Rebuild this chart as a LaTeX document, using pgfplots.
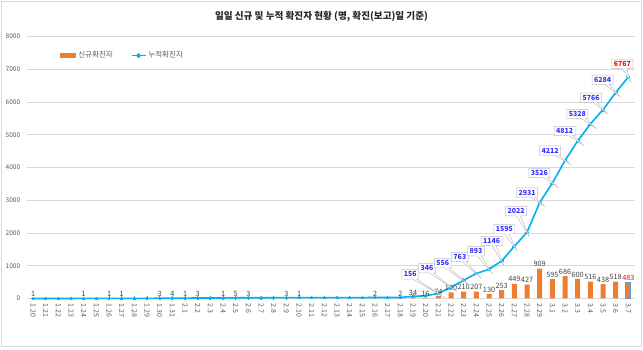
\documentclass[border=0pt]{standalone}
\usepackage{pgfplots}
\pgfplotsset{compat=1.18}
\usepackage{pgfplotstable}
\usepackage{fontspec}
\setmainfont{Noto Sans CJK KR}
\usetikzlibrary{shapes.callouts}
\definecolor{barC}{HTML}{ED7D31}
\definecolor{lineC}{HTML}{00B0F0}
\definecolor{cumC}{HTML}{3333FF}
\definecolor{gridC}{HTML}{D9D9D9}
\definecolor{txtC}{HTML}{595959}
\definecolor{lblC}{HTML}{404040}
\definecolor{edgeC}{HTML}{5B9BD5}

\pgfplotstableread{
x new cum
0 1 1
1 0 1
2 0 1
3 0 1
4 1 2
5 0 2
6 1 3
7 1 4
8 0 4
9 0 4
10 3 7
11 4 11
12 1 12
13 3 15
14 0 15
15 1 16
16 5 21
17 3 24
18 0 24
19 0 24
20 3 27
21 1 28
22 0 28
23 0 28
24 0 28
25 0 28
26 0 28
27 2 30
28 0 30
29 2 32
30 34 66
31 16 82
32 74 156
33 190 346
34 210 556
35 207 763
36 130 893
37 253 1146
38 449 1595
39 427 2022
40 909 2931
41 595 3526
42 686 4212
43 600 4812
44 516 5328
45 438 5766
46 518 6284
47 483 6767
}\daily

\pgfplotstableread{
x cum dx dy px py
32 156 -28 19 28 -19
33 346 -24 19 24 -19
34 556 -21 17 21 -17
35 763 -16.5 16.5 16.5 -16.5
36 893 -13 18 13 -18
37 1146 -10 20 10 -20
38 1595 -10 17 10 -17
39 2022 -11 21 11 -21
40 2931 -12.6 10 12.6 -10
41 3526 -13 10 13 -10
42 4212 -15 10 15 -10
43 4812 -13 10 13 -10
44 5328 -13 10 13 -10
45 5766 -12 12 12 -12
46 6284 -13 13 13 -13
}\callouts

\begin{document}
\begin{tikzpicture}[x=1pt,y=1pt]
\path[use as bounding box] (0,0) rectangle (643,350);
\draw[gridC, line width=0.8pt] (1,4) rectangle (641,349);
\node[font=\bfseries\fontsize{9.6}{11}\selectfont, text=black!85] at (321.5,333) {일일 신규 및 누적 확진자 현황 (명, 확진(보고)일 기준)};
\begin{axis}[
  at={(26.7pt,51.5pt)}, anchor=south west,
  scale only axis, width=608pt, height=262pt,
  clip=false,
  xmin=-0.5, xmax=47.5, ymin=0, ymax=8000,
  ytick={0,1000,...,8000},
  ymajorgrids, grid style={gridC, line width=0.7pt},
  axis x line*=bottom, axis y line*=left,
  y axis line style={draw=none},
  x axis line style={draw=gridC, line width=0.7pt},
  xtick={0,...,47},
  xticklabels={1.20,1.21,1.22,1.23,1.24,1.25,1.26,1.27,1.28,1.29,1.30,1.31,2.1,2.2,2.3,2.4,2.5,2.6,2.7,2.8,2.9,2.10,2.11,2.12,2.13,2.14,2.15,2.16,2.17,2.18,2.19,2.20,2.21,2.22,2.23,2.24,2.25,2.26,2.27,2.28,2.29,3.1,3.2,3.3,3.4,3.5,3.6,3.7},
  major tick length=0pt, tick align=outside,
  xticklabel shift=4pt,
  xticklabel style={rotate=-90, anchor=west, font=\fontsize{7}{8}\selectfont, text=txtC, inner sep=1pt},
  yticklabel style={font=\fontsize{6.5}{7}\selectfont, text=txtC, xshift=-3pt},
  /pgf/number format/assume math mode=true,
  /pgf/number format/1000 sep={},
  legend columns=2,
  legend style={draw=none, fill=none, at={(0.05,0.927)}, anchor=west,
    font=\fontsize{7.5}{9}\selectfont, text=txtC,
    /tikz/every even column/.append style={column sep=16pt}},
]
\addplot[ybar, bar width=5pt, bar shift=0pt, fill=barC, draw=none,
  skip coords between index={47}{48},
  nodes near coords={\pgfmathfloatifflags{\pgfplotspointmeta}{0}{}{\pgfmathprintnumber{\pgfplotspointmeta}}},
  nodes near coords style={font=\fontsize{7.3}{8}\selectfont, text=lblC, inner sep=1.5pt},
  legend image code/.code={\fill[barC] (0pt,-2.5pt) rectangle (16pt,2.5pt);}
] table[x=x, y=new]{\daily};
\addlegendentry{신규확진자}
\addplot[lineC, line width=1.6pt, mark=*, mark size=1.4pt, mark options={fill=lineC, draw=lineC, line width=0pt},
  legend image code/.code={\draw[lineC, line width=1.6pt] (0pt,0pt) -- (14pt,0pt); \fill[lineC] (7pt,0pt) circle (1.5pt);}
] table[x=x, y=cum]{\daily};
\addlegendentry{누적확진자}
\addplot[ybar, bar width=5pt, bar shift=0pt, fill=barC, draw=edgeC, line width=1pt, forget plot,
  nodes near coords,
  nodes near coords style={font=\fontsize{7.3}{8}\selectfont, text=red, inner sep=2pt}
] coordinates {(47,483)};
\addplot[draw=none, mark=none, forget plot,
  visualization depends on={\thisrow{dx} \as \dx},
  visualization depends on={\thisrow{dy} \as \dy},
  visualization depends on={\thisrow{px} \as \px},
  visualization depends on={\thisrow{py} \as \py},
  nodes near coords={\pgfmathprintnumber{\pgfplotspointmeta}},
  every node near coord/.append style={anchor=center, xshift=\dx pt, yshift=\dy pt,
    rectangle callout, callout relative pointer={(\px pt,\py pt)}, callout pointer width=4pt,
    draw=black!25, fill=white, line width=0.5pt, inner xsep=2pt, inner ysep=2pt,
    font=\bfseries\fontsize{7}{8}\selectfont, text=cumC}
] table[x=x, y=cum]{\callouts};
\addplot[draw=none, mark=none, forget plot,
  nodes near coords={\pgfmathprintnumber{\pgfplotspointmeta}},
  every node near coord/.append style={anchor=center, xshift=-6pt, yshift=13pt,
    rectangle callout, callout relative pointer={(6pt,-13pt)}, callout pointer width=4pt,
    draw=black!25, fill=white, line width=0.5pt, inner xsep=2pt, inner ysep=2pt,
    font=\bfseries\fontsize{7}{8}\selectfont, text=red}
] coordinates {(47,6767)};
\end{axis}
\end{tikzpicture}
\end{document}
